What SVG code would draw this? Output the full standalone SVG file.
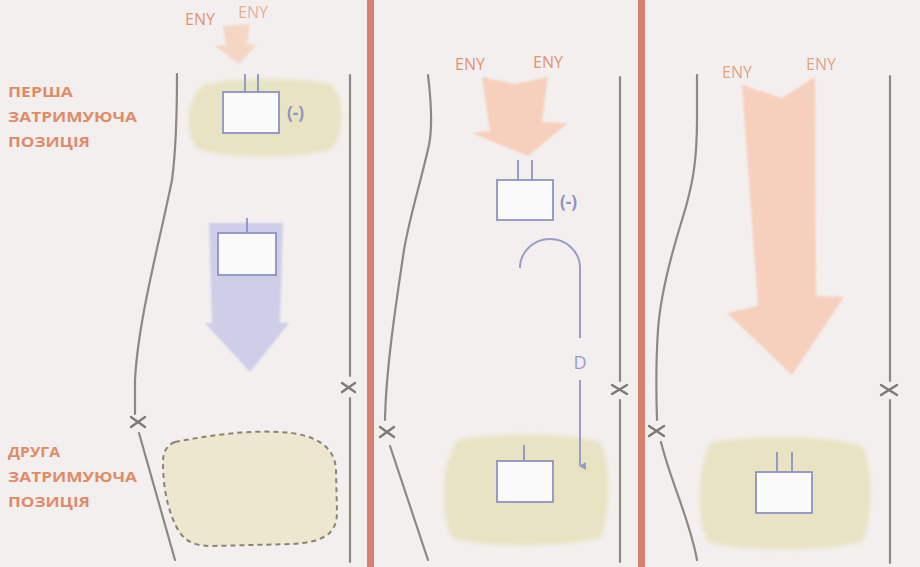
<svg xmlns="http://www.w3.org/2000/svg" width="920" height="567" viewBox="0 0 920 567">
<defs>
<filter id="soft" x="-20%" y="-20%" width="140%" height="140%"><feGaussianBlur stdDeviation="2"/></filter>
<filter id="soft2" x="-20%" y="-20%" width="140%" height="140%"><feGaussianBlur stdDeviation="1.2"/></filter>
<marker id="ah" markerWidth="8" markerHeight="8" refX="4" refY="6" orient="auto-start-reverse" markerUnits="userSpaceOnUse"><path d="M0,0 L8,0 L4,7 Z" fill="#9a9cc6"/></marker>
<style>
.bg{fill:#f3efee}
.bar{fill:#d9806f}
.wall{fill:none;stroke:#8c8882;stroke-width:2.2;stroke-linecap:round}
.x{stroke:#7d7a76;stroke-width:2.4;stroke-linecap:round}
.blob{fill:#e8e3c2;filter:url(#soft)}
.dash{fill:#eee7d0;stroke:#8a8274;stroke-width:2;stroke-dasharray:5 4}
.box{fill:#fbfafa;stroke:#8e92c2;stroke-width:1.8}
.stem{stroke:#8e92c2;stroke-width:1.8}
.lbl{font-family:"Open Sans","Liberation Sans",sans-serif;font-weight:bold;font-size:14px;fill:#e08b66}
.eny{font-family:"Open Sans","Liberation Sans",sans-serif;font-size:16px;fill:#e2936f}
.minus{font-family:"Open Sans","Liberation Sans",sans-serif;font-size:17px;font-weight:bold;fill:#8e92c2}
.oarrow{fill:#f6d0bc;filter:url(#soft2)}
.barrow{fill:#cecee9;filter:url(#soft2)}
.dline{fill:none;stroke:#9a9cc6;stroke-width:2}
.dtxt{font-family:"Open Sans","Liberation Sans",sans-serif;font-size:18px;fill:#9a9cc6}
</style>
</defs>
<rect class="bg" x="0" y="0" width="920" height="567"/>
<rect class="bar" x="367" y="0" width="7" height="567"/>
<rect class="bar" x="638" y="0" width="7" height="567"/>

<!-- Panel 1 -->
<g id="p1-walls">
<path class="wall" d="M177,74 C177,110 176,150 172,180 C160,240 138,320 135,380 L135,414"/>
<path class="wall" d="M139,433 L175,560"/>
<line class="wall" x1="350" y1="75" x2="350" y2="376"/>
<line class="wall" x1="350" y1="398" x2="350" y2="562"/>
<line class="x" x1="131" y1="417" x2="145" y2="427"/><line class="x" x1="131" y1="427" x2="145" y2="417"/>
<line class="x" x1="342" y1="383" x2="355" y2="392"/><line class="x" x1="342" y1="392" x2="355" y2="383"/>
</g>
<g id="p1-eny">
<text class="eny" x="185" y="25">ENY</text>
<text class="eny" x="238" y="18" opacity="0.7">ENY</text>
<path class="oarrow" opacity="0.8" d="M223,26 L250,24 L247,44 L257,45 L239,64 L215,46 L226,45 Z"/>
</g>
<g id="p1-first-position">
<path class="blob" d="M202,86 C235,76 300,78 330,84 C346,96 344,138 330,150 C290,160 222,158 198,149 C184,136 186,100 202,86 Z"/>
<line class="stem" x1="245" y1="74" x2="245" y2="92"/>
<line class="stem" x1="258" y1="74" x2="258" y2="92"/>
<rect class="box" x="223" y="92" width="56" height="41"/>
<text class="minus" x="287" y="119">(-)</text>
</g>
<g id="p1-label-first">
<text class="lbl" x="8" y="97" textLength="65" lengthAdjust="spacingAndGlyphs">ПЕРША</text>
<text class="lbl" x="8" y="122" textLength="129" lengthAdjust="spacingAndGlyphs">ЗАТРИМУЮЧА</text>
<text class="lbl" x="8" y="147" textLength="82" lengthAdjust="spacingAndGlyphs">ПОЗИЦІЯ</text>
</g>
<g id="p1-move">
<path class="barrow" d="M209,223 L283,223 L280,323 L289,323 L250,372 L205,323 L212,323 Z"/>
<line class="stem" x1="247" y1="218" x2="247" y2="233"/>
<rect class="box" x="218" y="233" width="58" height="42"/>
</g>
<g id="p1-second-position">
<path class="dash" d="M175,442 C205,436 245,430 280,432 C315,434 335,446 336,470 L337,512 C337,535 322,542 292,544 L212,546 C192,546 183,540 176,526 C166,506 163,482 163,462 C163,452 167,445 175,442 Z"/>
</g>
<g id="p1-label-second">
<text class="lbl" x="8" y="457" textLength="52" lengthAdjust="spacingAndGlyphs">ДРУГА</text>
<text class="lbl" x="8" y="482" textLength="129" lengthAdjust="spacingAndGlyphs">ЗАТРИМУЮЧА</text>
<text class="lbl" x="8" y="507" textLength="82" lengthAdjust="spacingAndGlyphs">ПОЗИЦІЯ</text>
</g>

<!-- Panel 2 -->
<g id="p2-walls">
<path class="wall" d="M428,75 C431,100 433,125 429,145 C420,185 410,215 404,250 C395,310 386,370 385,420"/>
<path class="wall" d="M390,446 L428,560"/>
<line class="wall" x1="620" y1="77" x2="620" y2="381"/>
<line class="wall" x1="620" y1="400" x2="620" y2="562"/>
<line class="x" x1="380" y1="427" x2="394" y2="437"/><line class="x" x1="380" y1="437" x2="394" y2="427"/>
<line class="x" x1="612" y1="385" x2="627" y2="394"/><line class="x" x1="612" y1="394" x2="627" y2="385"/>
</g>
<g id="p2-eny">
<text class="eny" x="455" y="70">ENY</text>
<text class="eny" x="533" y="68">ENY</text>
<path class="oarrow" d="M482,77 L515,84 L548,77 L542,122 L568,123 L528,156 L472,133 L490,131 Z"/>
</g>
<g id="p2-node-top">
<line class="stem" x1="518" y1="160" x2="518" y2="180"/>
<line class="stem" x1="532" y1="160" x2="532" y2="180"/>
<rect class="box" x="497" y="180" width="56" height="40"/>
<text class="minus" x="560" y="208">(-)</text>
</g>
<g id="p2-position">
<path class="blob" d="M458,440 C500,432 570,433 600,442 C612,460 610,520 600,538 C560,548 480,548 452,538 C440,515 441,460 458,440 Z"/>
<line class="stem" x1="524" y1="445" x2="524" y2="461"/>
<rect class="box" x="497" y="461" width="56" height="41"/>
</g>
<g id="connectors">
<path class="dline" d="M520,268 A30,29 0 0 1 580,268 L580,338"/>
<path class="dline" d="M580,380 L580,466" marker-end="url(#ah)"/>
<text class="dtxt" x="580" y="369" text-anchor="middle">D</text>
</g>

<!-- Panel 3 -->
<g id="p3-walls">
<path class="wall" d="M697,75 L697,120 C697,160 693,185 682,220 C668,265 660,300 658,330 C656,360 656,390 657,420"/>
<path class="wall" d="M661,442 C670,480 690,520 697,560"/>
<line class="wall" x1="890" y1="76" x2="890" y2="381"/>
<line class="wall" x1="890" y1="400" x2="890" y2="563"/>
<line class="x" x1="649" y1="426" x2="664" y2="436"/><line class="x" x1="649" y1="436" x2="664" y2="426"/>
<line class="x" x1="881" y1="385" x2="897" y2="395"/><line class="x" x1="881" y1="395" x2="897" y2="385"/>
</g>
<g id="p3-eny">
<text class="eny" x="722" y="78" fill="#ef8f7a" opacity="0.85">ENY</text>
<text class="eny" x="806" y="70" fill="#ef8f7a" opacity="0.85">ENY</text>
<path class="oarrow" d="M742,85 L782,98 L815,77 L816,296 L844,297 L792,375 L727,313 L758,306 Z"/>
</g>
<g id="p3-position">
<path class="blob" d="M712,442 C760,434 830,436 862,446 C874,465 872,525 862,542 C820,552 740,552 708,542 C696,520 697,462 712,442 Z"/>
<line class="stem" x1="777" y1="452" x2="777" y2="472"/>
<line class="stem" x1="792" y1="452" x2="792" y2="472"/>
<rect class="box" x="756" y="472" width="56" height="41"/>
</g>
</svg>
